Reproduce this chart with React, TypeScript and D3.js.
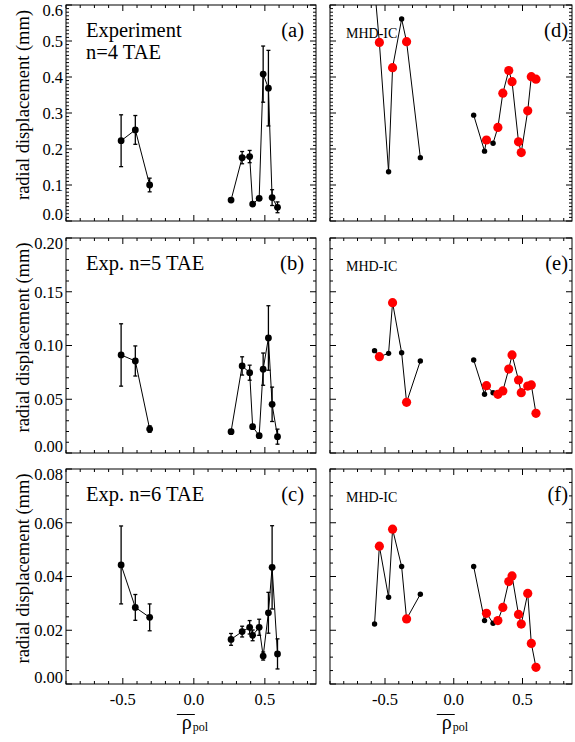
import React from 'react';
import * as d3 from 'd3';

// ---------- data ----------
const expX = [-0.512, -0.412, -0.311, 0.262, 0.34, 0.393, 0.414, 0.46, 0.488, 0.525, 0.551, 0.589];
const expGroup = [0, 0, 0, 1, 1, 1, 1, 1, 1, 1, 1, 1];
const expA = [0.223, 0.253, 0.1, 0.058, 0.176, 0.179, 0.047, 0.063, 0.408, 0.369, 0.065, 0.038];
const expAErr = [0.072, 0.04, 0.019, 0.004, 0.017, 0.017, 0.003, 0.005, 0.078, 0.105, 0.022, 0.015];
const expB = [0.0912, 0.0856, 0.0223, 0.0198, 0.081, 0.0747, 0.0245, 0.0161, 0.078, 0.107, 0.0453, 0.0152];
const expBErr = [0.029, 0.014, 0.003, 0.002, 0.0085, 0.007, 0.002, 0.002, 0.015, 0.03, 0.016, 0.007];
const expC = [0.0443, 0.0285, 0.0248, 0.0166, 0.0195, 0.0211, 0.0181, 0.0211, 0.0104, 0.0265, 0.0434, 0.0112];
const expCErr = [0.0145, 0.0048, 0.005, 0.0022, 0.002, 0.0025, 0.002, 0.003, 0.0015, 0.0076, 0.0155, 0.0056];

const mhdX = [-0.576, -0.541, -0.474, -0.445, -0.379, -0.343, -0.243, 0.145, 0.224, 0.238, 0.286, 0.321, 0.357, 0.4, 0.424, 0.471, 0.491, 0.538, 0.564, 0.598];
const mhdGroup = [0, 0, 0, 0, 0, 0, 0, 1, 1, 1, 1, 1, 1, 1, 1, 1, 1, 1, 1, 1];
const mhdKind = ['k', 'r', 'k', 'r', 'k', 'r', 'k', 'k', 'k', 'r', 'k', 'r', 'r', 'r', 'r', 'r', 'r', 'r', 'r', 'r'];
const mhdD = [0.65, 0.496, 0.137, 0.426, 0.561, 0.498, 0.176, 0.294, 0.194, 0.225, 0.216, 0.26, 0.355, 0.418, 0.387, 0.22, 0.19, 0.306, 0.401, 0.394];
const mhdE = [0.0952, 0.0896, 0.0927, 0.1398, 0.0933, 0.0471, 0.0856, 0.0865, 0.0546, 0.0626, 0.0561, 0.0546, 0.0577, 0.0781, 0.0912, 0.0679, 0.0561, 0.0623, 0.0633, 0.0369];
const mhdF = [0.0223, 0.0513, 0.0323, 0.0576, 0.0437, 0.0242, 0.0334, 0.0437, 0.0236, 0.0263, 0.0226, 0.0236, 0.0285, 0.0381, 0.0402, 0.0259, 0.0223, 0.0337, 0.0151, 0.0062];

const yMaxes = [0.6, 0.2, 0.08];
const yMajorSteps = [0.1, 0.05, 0.02];
const yMinorSteps = [0.01, 0.01, 0.005];
const yDecimals = [1, 2, 2];
const xDomain = [-0.9, 0.86];
const xMajorTicks = [-0.5, 0, 0.5];
const xTickLabels = ['-0.5', '0.0', '0.5'];
const expTitles = [['Experiment', 'n=4 TAE'], ['Exp. n=5 TAE'], ['Exp. n=6 TAE']];
const leftTags = ['(a)', '(b)', '(c)'];
const rightTags = ['(d)', '(e)', '(f)'];

// ---------- layout ----------
const W = 575, H = 742;
const rowTop = [5, 238, 469];
const rowBot = [221, 453, 684];
const colL = [66, 316];
const colR = [330, 572];
const FS = { fontFamily: 'Liberation Serif, serif' };

function Frame({ x0, x1, y0, y1, row, yLabels }: any) {
  const xs = d3.scaleLinear().domain(xDomain).range([x0, x1]);
  const ys = d3.scaleLinear().domain([0, yMaxes[row]]).range([y1, y0]);
  const nMinor = Math.round(yMaxes[row] / yMinorSteps[row]);
  const per = Math.round(yMajorSteps[row] / yMinorSteps[row]);
  const yt = d3.range(0, nMinor + 1).map((i) => ({ v: i * yMinorSteps[row], major: i % per === 0 }));
  const xt = d3.range(-9, 9).map((i) => ({ v: i / 10, major: i % 5 === 0 }));
  const els: any[] = [];
  yt.forEach((t, i) => {
    const y = ys(t.v);
    const L = t.major ? 6 : 3;
    els.push(<line key={'yl' + i} x1={x0} x2={x0 + L} y1={y} y2={y} stroke="#000" strokeWidth={1} />);
    els.push(<line key={'yr' + i} x1={x1} x2={x1 - L} y1={y} y2={y} stroke="#000" strokeWidth={1} />);
  });
  xt.forEach((t, i) => {
    const x = xs(t.v);
    const L = t.major ? 6 : 3;
    els.push(<line key={'xb' + i} x1={x} x2={x} y1={y1} y2={y1 - L} stroke="#000" strokeWidth={1} />);
    els.push(<line key={'xt' + i} x1={x} x2={x} y1={y0} y2={y0 + L} stroke="#000" strokeWidth={1} />);
  });
  const labels: any[] = [];
  if (yLabels) {
    const nMaj = Math.round(yMaxes[row] / yMajorSteps[row]);
    d3.range(0, nMaj + 1).forEach((i) => {
      const v = i * yMajorSteps[row];
      let y = ys(v);
      if (i === 0) y -= 7;
      if (i === nMaj) y += 5;
      labels.push(
        <text key={'lab' + i} x={x0 - 3} y={y} dy="0.35em" textAnchor="end" fontSize={16.5} style={FS}>
          {v.toFixed(yDecimals[row])}
        </text>
      );
    });
  }
  return (
    <g>
      <rect x={x0} y={y0} width={x1 - x0} height={y1 - y0} fill="none" stroke="#000" strokeWidth={1} />
      {els}
      {labels}
    </g>
  );
}

function ExpPanel({ row, vals, errs }: any) {
  const [x0, x1] = colL;
  const y0 = rowTop[row], y1 = rowBot[row];
  const xs = d3.scaleLinear().domain(xDomain).range([x0, x1]);
  const ys = d3.scaleLinear().domain([0, yMaxes[row]]).range([y1, y0]);
  const line = d3.line<number>().x((i) => xs(expX[i])).y((i) => ys(vals[i]));
  const groups = [0, 1].map((g) => d3.range(expX.length).filter((i) => expGroup[i] === g));
  const clipId = 'clipL' + row;
  const titleLines = expTitles[row];
  return (
    <g>
      <defs>
        <clipPath id={clipId}>
          <rect x={x0} y={y0} width={x1 - x0} height={y1 - y0} />
        </clipPath>
      </defs>
      <Frame x0={x0} x1={x1} y0={y0} y1={y1} row={row} yLabels={true} />
      <g clipPath={`url(#${clipId})`}>
        {groups.map((g, k) => (
          <path key={k} d={line(g) || ''} fill="none" stroke="#000" strokeWidth={1} />
        ))}
        {expX.map((xv, i) => {
          const cx = xs(xv);
          const top = ys(vals[i] + errs[i]);
          const bot = ys(Math.max(0, vals[i] - errs[i]));
          return (
            <g key={'e' + i}>
              <line x1={cx} x2={cx} y1={top} y2={bot} stroke="#000" strokeWidth={1.3} />
              <line x1={cx - 2} x2={cx + 2} y1={top} y2={top} stroke="#000" strokeWidth={1.3} />
              <line x1={cx - 2} x2={cx + 2} y1={bot} y2={bot} stroke="#000" strokeWidth={1.3} />
              <circle cx={cx} cy={ys(vals[i])} r={3.4} fill="#000" />
            </g>
          );
        })}
      </g>
      {titleLines.map((t: string, k: number) => (
        <text key={'t' + k} x={86} y={y0 + 32 + k * 22} fontSize={20.5} style={FS}>
          {t}
        </text>
      ))}
      <text x={304} y={y0 + 32} textAnchor="end" fontSize={20.5} style={FS}>
        {leftTags[row]}
      </text>
      <text
        transform={`translate(29,${(y0 + y1) / 2 - 8}) rotate(-90)`}
        textAnchor="middle"
        fontSize={18.5}
        style={FS}
      >
        radial displacement (mm)
      </text>
    </g>
  );
}

function MhdPanel({ row, vals }: any) {
  const [x0, x1] = colR;
  const y0 = rowTop[row], y1 = rowBot[row];
  const xs = d3.scaleLinear().domain(xDomain).range([x0, x1]);
  const ys = d3.scaleLinear().domain([0, yMaxes[row]]).range([y1, y0]);
  const line = d3.line<number>().x((i) => xs(mhdX[i])).y((i) => ys(vals[i]));
  const groups = [0, 1].map((g) => d3.range(mhdX.length).filter((i) => mhdGroup[i] === g));
  const clipId = 'clipR' + row;
  return (
    <g>
      <defs>
        <clipPath id={clipId}>
          <rect x={x0} y={y0} width={x1 - x0} height={y1 - y0} />
        </clipPath>
      </defs>
      <Frame x0={x0} x1={x1} y0={y0} y1={y1} row={row} yLabels={false} />
      <text x={346} y={y0 + 33} fontSize={14} style={FS}>
        MHD-IC
      </text>
      <g clipPath={`url(#${clipId})`}>
        {groups.map((g, k) => (
          <path key={k} d={line(g) || ''} fill="none" stroke="#000" strokeWidth={1} />
        ))}
        {mhdX.map((xv, i) =>
          mhdKind[i] === 'k' ? (
            <circle key={'m' + i} cx={xs(xv)} cy={ys(vals[i])} r={2.7} fill="#000" />
          ) : (
            <circle key={'m' + i} cx={xs(xv)} cy={ys(vals[i])} r={4.6} fill="#ff0000" />
          )
        )}
      </g>
      <text x={568} y={y0 + 32} textAnchor="end" fontSize={20.5} style={FS}>
        {rightTags[row]}
      </text>
    </g>
  );
}

function XAxisLabels({ x0, x1 }: any) {
  const xs = d3.scaleLinear().domain(xDomain).range([x0, x1]);
  const y1 = rowBot[2];
  const z = xs(0);
  return (
    <g>
      {xMajorTicks.map((v, i) => (
        <text key={i} x={xs(v)} y={y1 + 21} textAnchor="middle" fontSize={16.5} style={FS}>
          {xTickLabels[i]}
        </text>
      ))}
      <line x1={z - 17} x2={z + 1} y1={714.5} y2={714.5} stroke="#000" strokeWidth={1} />
      <text x={z - 12} y={729} fontSize={20} style={FS}>
        ρ
      </text>
      <text x={z - 1} y={731} fontSize={12} style={FS}>
        pol
      </text>
    </g>
  );
}

export default function App() {
  const expVals = [expA, expB, expC];
  const expErrs = [expAErr, expBErr, expCErr];
  const mhdVals = [mhdD, mhdE, mhdF];
  return (
    <svg
      width={W}
      height={H}
      viewBox={`0 0 ${W} ${H}`}
      style={{ position: 'absolute', left: 0, top: 0, background: '#fff' }}
    >
      <rect x={0} y={0} width={W} height={H} fill="#fff" />
      {[0, 1, 2].map((r) => (
        <ExpPanel key={'L' + r} row={r} vals={expVals[r]} errs={expErrs[r]} />
      ))}
      {[0, 1, 2].map((r) => (
        <MhdPanel key={'R' + r} row={r} vals={mhdVals[r]} />
      ))}
      <XAxisLabels x0={colL[0]} x1={colL[1]} />
      <XAxisLabels x0={colR[0]} x1={colR[1]} />
    </svg>
  );
}
